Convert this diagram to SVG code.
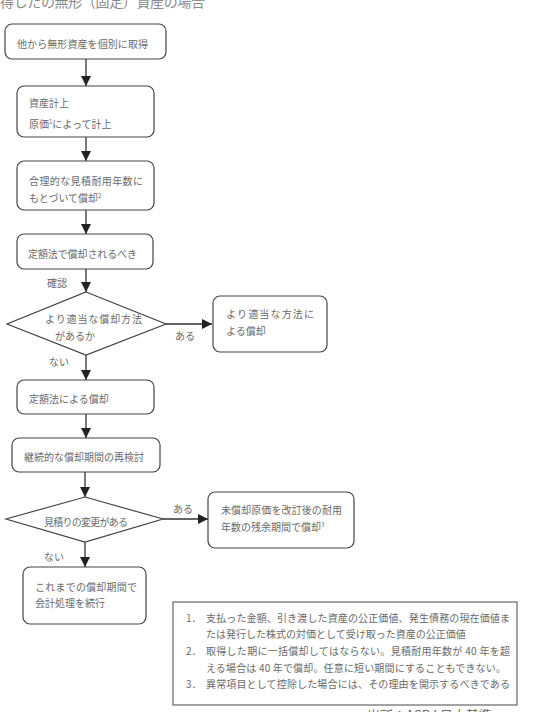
<svg xmlns="http://www.w3.org/2000/svg" width="533" height="712" viewBox="0 0 533 712">
<style>
text{font-family:"Noto Sans CJK JP","Noto Sans",sans-serif;fill:#6a6a6a;font-size:10px}
.box{fill:#fff;stroke:#444;stroke-width:1.2}
.dia{fill:#fff;stroke:#444;stroke-width:1.2}
.note{fill:#fff;stroke:#666;stroke-width:1.2}
.con{stroke:#333;stroke-width:1.3;fill:none}
.sup{font-size:6px}
.title{font-size:14px;fill:#8a8a8a}
</style>
<defs>
<marker id="ah" markerUnits="userSpaceOnUse" markerWidth="12" markerHeight="12" viewBox="0 0 12 12" refX="11" refY="6" orient="auto">
<path d="M1,1 L11,6 L1,11 Z" fill="#222"/>
</marker>
</defs>
<rect width="533" height="712" fill="#fff"/>
<text class="title" x="0" y="7" textLength="205">得したの無形（固定）資産の場合</text>

<g id="connectors">
<line class="con" x1="86" y1="59" x2="86" y2="86" marker-end="url(#ah)"/>
<line class="con" x1="86" y1="137" x2="86" y2="161" marker-end="url(#ah)"/>
<line class="con" x1="86" y1="210" x2="86" y2="234" marker-end="url(#ah)"/>
<line class="con" x1="86" y1="269" x2="86" y2="292" marker-end="url(#ah)"/>
<line class="con" x1="166" y1="324" x2="212" y2="324" marker-end="url(#ah)"/>
<line class="con" x1="86" y1="355" x2="86" y2="380" marker-end="url(#ah)"/>
<line class="con" x1="86" y1="414" x2="86" y2="438" marker-end="url(#ah)"/>
<line class="con" x1="85" y1="472" x2="85" y2="497" marker-end="url(#ah)"/>
<line class="con" x1="163" y1="519" x2="208" y2="519" marker-end="url(#ah)"/>
<line class="con" x1="85" y1="542" x2="85" y2="567" marker-end="url(#ah)"/>
<text x="47" y="287">確認</text>
<text x="175" y="340">ある</text>
<text x="49" y="366">ない</text>
<text x="173" y="513">ある</text>
<text x="44" y="561">ない</text>
</g>

<g id="n1">
<rect class="box" x="5" y="24" width="161" height="35" rx="7"/>
<text x="17" y="48" textLength="131">他から無形資産を個別に取得</text>
</g>
<g id="n2">
<rect class="box" x="17" y="86" width="137" height="51" rx="7"/>
<text x="29" y="107">資産計上</text>
<text x="29" y="128">原価<tspan class="sup" dy="-4">1</tspan><tspan dy="4">によって計上</tspan></text>
</g>
<g id="n3">
<rect class="box" x="17" y="161" width="137" height="49" rx="7"/>
<text x="29" y="185" textLength="114">合理的な見積耐用年数に</text>
<text x="29" y="202">もとづいて償却<tspan class="sup" dy="-4">2</tspan></text>
</g>
<g id="n4">
<rect class="box" x="17" y="234" width="136" height="35" rx="7"/>
<text x="28" y="258" textLength="109">定額法で償却されるべき</text>
</g>
<g id="d1">
<polygon class="dia" points="86,292 166,324 86,355 7,324"/>
<text x="45" y="323" textLength="97">より適当な償却方法</text>
<text x="55" y="340">があるか</text>
</g>
<g id="n5">
<rect class="box" x="213" y="296" width="114" height="56" rx="7"/>
<text x="226" y="318" textLength="88">より適当な方法に</text>
<text x="226" y="335">よる償却</text>
</g>
<g id="n6">
<rect class="box" x="17" y="380" width="137" height="34" rx="7"/>
<text x="29" y="403">定額法による償却</text>
</g>
<g id="n7">
<rect class="box" x="12" y="438" width="148" height="34" rx="7"/>
<text x="24" y="461">継続的な償却期間の再検討</text>
</g>
<g id="d2">
<polygon class="dia" points="85,497 163,519 85,542 6,519"/>
<text x="44" y="526" textLength="84">見積りの変更がある</text>
</g>
<g id="n8">
<rect class="box" x="208" y="492" width="146" height="56" rx="7"/>
<text x="221" y="514" textLength="121">未償却原価を改訂後の耐用</text>
<text x="221" y="531">年数の残余期間で償却<tspan class="sup" dy="-4">3</tspan></text>
</g>
<g id="n9">
<rect class="box" x="23" y="567" width="123" height="57" rx="7"/>
<text x="35" y="591" textLength="102">これまでの償却期間で</text>
<text x="35" y="607">会計処理を続行</text>
</g>
<g id="notes">
<rect class="note" x="173" y="602" width="344" height="103"/>
<text x="186" y="622">1．</text>
<text x="206" y="622" textLength="304">支払った金額、引き渡した資産の公正価値、発生債務の現在価値ま</text>
<text x="206" y="638">たは発行した株式の対価として受け取った資産の公正価値</text>
<text x="186" y="655">2．</text>
<text x="206" y="655" textLength="304">取得した期に一括償却してはならない。見積耐用年数が 40 年を超</text>
<text x="206" y="672" textLength="300">える場合は 40 年で償却。任意に短い期間にすることもできない。</text>
<text x="186" y="688">3．</text>
<text x="206" y="688" textLength="304">異常項目として控除した場合には、その理由を開示するべきである</text>
</g>
<text x="367" y="720" style="font-size:13px">出所：ASBJ 日本基準</text>
</svg>
